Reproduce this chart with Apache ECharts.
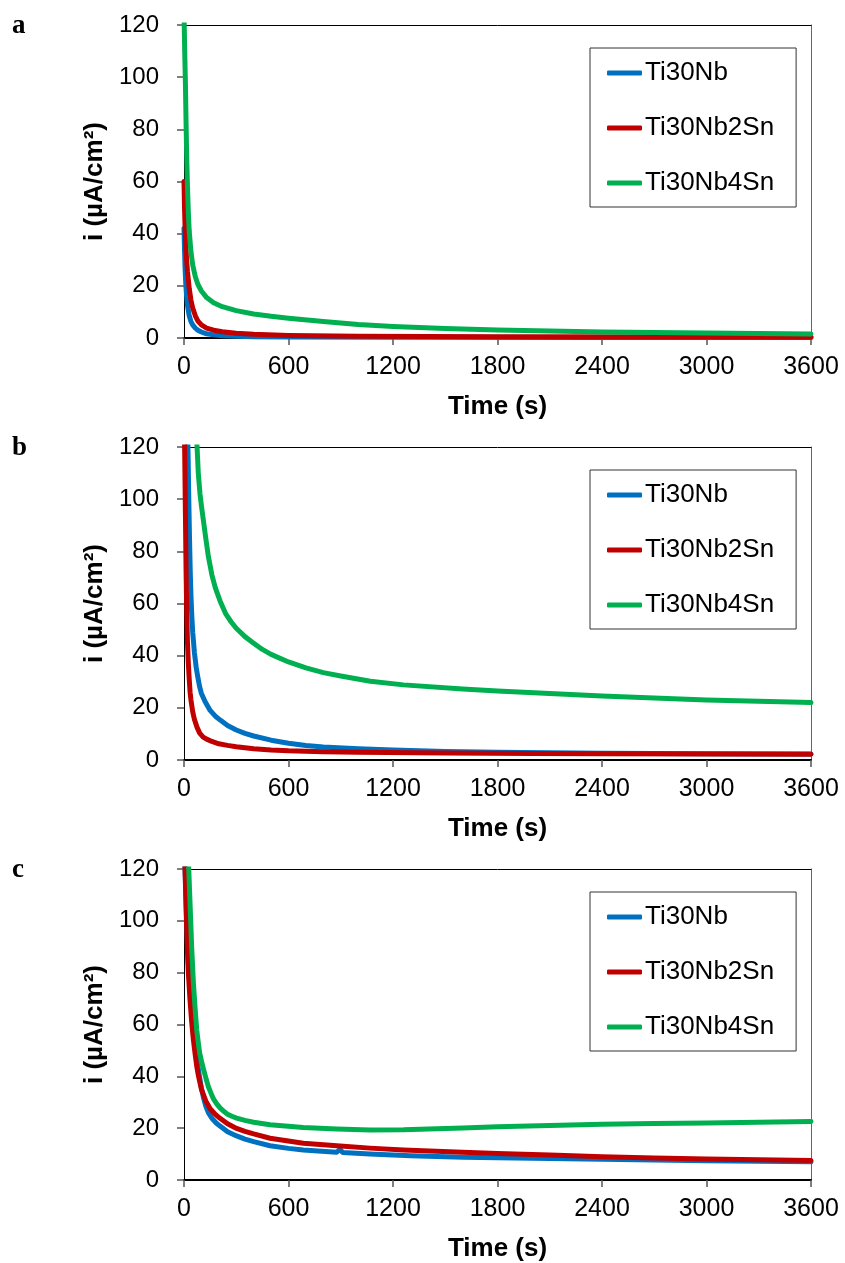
<!DOCTYPE html>
<html>
<head>
<meta charset="utf-8">
<script src="https://cdn.jsdelivr.net/npm/echarts@6/dist/echarts.min.js"></script>
<style>
html,body{margin:0;padding:0;background:#fff;}
#chart{width:845px;height:1263px;}
</style>
</head>
<body>
<div id="chart"></div>
<script>
// ---- data (time s, current µA/cm²) ----
const seriesNames = ['Ti30Nb', 'Ti30Nb2Sn', 'Ti30Nb4Sn'];
const panelLabels = ['a', 'b', 'c'];
const xTicks = [0, 600, 1200, 1800, 2400, 3000, 3600];
const yTicks = [0, 20, 40, 60, 80, 100, 120];

// panel a
const a_Ti30Nb = [[0,42],[3,34],[6,27],[10,21],[15,16],[20,12.5],[30,8.5],[40,6.3],[50,5],[65,3.8],[80,3],[100,2.3],[130,1.6],[170,1.2],[220,0.9],[300,0.7],[400,0.5],[600,0.35],[1200,0.25],[2400,0.2],[3600,0.2]];
const a_Ti30Nb2Sn = [[0,60],[3,50],[6,43],[10,36],[15,30],[20,25.5],[30,19],[40,14.5],[50,11.5],[65,8.5],[80,6.5],[100,5],[130,3.8],[170,3],[220,2.4],[300,1.8],[400,1.4],[600,1],[1000,0.7],[1800,0.5],[3600,0.4]];
const a_Ti30Nb4Sn = [[0,125],[4,110],[8,98],[12,82],[16,68],[20,58],[25,48],[30,41],[40,33],[50,28],[65,23.5],[80,20.5],[100,18],[130,15.5],[170,13.5],[220,12],[300,10.5],[400,9.2],[500,8.3],[600,7.6],[800,6.3],[1000,5.2],[1200,4.4],[1500,3.6],[1800,3.1],[2100,2.7],[2400,2.3],[2700,2.1],[3000,1.9],[3300,1.7],[3600,1.5]];

// panel b
const b_Ti30Nb = [[0,135],[20,128],[24,115],[28,98],[32,84],[36,72],[40,63],[45,55],[50,49],[60,41],[70,35.5],[80,31.5],[90,28],[100,25.5],[120,22.5],[150,19],[180,16.8],[210,15.2],[250,13.2],[300,11.5],[350,10.2],[400,9.2],[500,7.6],[600,6.4],[700,5.6],[800,5],[1000,4.3],[1200,3.8],[1500,3.3],[1800,3],[2400,2.6],[3000,2.4],[3600,2.3]];
const b_Ti30Nb2Sn = [[0,135],[4,118],[8,95],[12,72],[16,56],[20,45],[25,37],[30,31],[35,26],[40,23],[50,18.5],[60,15.5],[75,12.5],[90,10.3],[110,8.8],[130,8],[160,7.1],[200,6.2],[250,5.6],[300,5.1],[400,4.3],[500,3.8],[600,3.5],[800,3.2],[1000,3],[1500,2.7],[2000,2.5],[2400,2.4],[3000,2.3],[3600,2.2]];
const b_Ti30Nb4Sn = [[55,175],[62,150],[68,132],[75,120],[82,110],[92,102],[100,97.5],[111,92],[125,85],[140,78],[160,71],[180,66],[207,61],[240,56],[270,53],[300,50.5],[350,47.3],[400,44.8],[450,42.4],[500,40.5],[600,37.6],[700,35.3],[800,33.5],[900,32.2],[1070,30.2],[1260,28.8],[1600,27.2],[1800,26.5],[2100,25.5],[2400,24.5],[2700,23.8],[3000,23],[3300,22.5],[3600,22]];

// panel c
const c_Ti30Nb = [[0,135],[5,122],[10,112],[15,100],[20,91],[25,84],[34,74],[44,65],[54,58],[64,52],[73,47],[82,43],[90,39.5],[100,35.5],[111,32],[125,28.5],[140,26],[160,23.8],[185,22],[207,20.8],[250,18.6],[302,17],[350,15.8],[400,14.8],[494,13.2],[600,12.2],[685,11.6],[877,10.7],[895,11.8],[912,10.6],[1068,10],[1300,9.4],[1604,8.8],[1800,8.6],[2100,8.3],[2400,8],[2700,7.7],[3000,7.4],[3300,7.2],[3600,7]];
const c_Ti30Nb2Sn = [[0,135],[5,122],[10,110],[15,98],[20,88],[25,80],[34,70],[44,61],[54,54],[64,48.5],[73,44],[82,40.5],[90,38],[100,35],[111,33],[125,30.5],[150,27.5],[180,25.3],[207,23.8],[250,21.7],[302,19.9],[350,18.8],[400,17.8],[494,16.1],[685,14.2],[877,13.2],[1068,12.3],[1260,11.6],[1600,10.7],[1800,10.2],[2100,9.6],[2400,9],[2700,8.5],[3000,8.1],[3300,7.8],[3600,7.5]];
const c_Ti30Nb4Sn = [[0,220],[15,150],[20,135],[25,124],[34,108],[44,90],[54,76],[64,66],[73,58],[82,53],[90,49],[100,46],[111,43],[125,39.5],[140,36],[155,33.5],[170,31.2],[190,29.2],[207,27.8],[230,26.4],[250,25.4],[275,24.6],[302,23.9],[350,23],[400,22.3],[494,21.3],[685,20.3],[877,19.7],[1068,19.3],[1260,19.4],[1600,20.1],[1800,20.5],[2100,21],[2400,21.5],[2700,21.8],[3000,22],[3300,22.3],[3600,22.6]];

const panels = [
  [a_Ti30Nb, a_Ti30Nb2Sn, a_Ti30Nb4Sn],
  [b_Ti30Nb, b_Ti30Nb2Sn, b_Ti30Nb4Sn],
  [c_Ti30Nb, c_Ti30Nb2Sn, c_Ti30Nb4Sn]
];
const colors = ['#0070C0', '#C00000', '#00B050'];

// ---- layout ----
const gridTops = [25, 447, 869];
const gridH = 313;
const gridLeft = 184;
const gridRight = 34;
const FONT = '"Liberation Sans", Arial, sans-serif';

const grids = [], xAxes = [], yAxes = [], series = [], legends = [], graphics = [];
gridTops.forEach((top, p) => {
  grids.push({left: gridLeft, right: gridRight, top: top, height: gridH, containLabel: false});
  xAxes.push({
    type: 'value', gridIndex: p, min: xTicks[0], max: xTicks[xTicks.length-1], interval: 600,
    position: 'bottom',
    name: 'Time (s)', nameLocation: 'middle', nameGap: 56,
    nameTextStyle: {fontFamily: FONT, fontSize: 26, fontWeight: 'bold', color: '#000'},
    axisLine: {show: true, onZero: false, lineStyle: {color: '#000', width: 2}},
    axisTick: {show: true, length: 7, inside: false, lineStyle: {color: '#555', width: 1.5}},
    axisLabel: {fontFamily: FONT, fontSize: 25, color: '#000', margin: 17, formatter: v => String(v)},
    splitLine: {show: false}
  });
  xAxes.push({
    type: 'value', gridIndex: p, min: 0, max: 3600, position: 'top',
    axisLine: {show: true, onZero: false, lineStyle: {color: '#000', width: 1}},
    axisTick: {show: false}, axisLabel: {show: false}, splitLine: {show: false}
  });
  yAxes.push({
    type: 'value', gridIndex: p, min: yTicks[0], max: yTicks[yTicks.length-1], interval: 20,
    position: 'left',
    name: 'i (µA/cm²)', nameLocation: 'middle', nameGap: 72,
    nameTextStyle: {fontFamily: FONT, fontSize: 26, fontWeight: 'bold', color: '#000'},
    axisLine: {show: true, onZero: false, lineStyle: {color: '#000', width: 1}},
    axisTick: {show: true, length: 7, inside: false, lineStyle: {color: '#555', width: 1.5}},
    axisLabel: {fontFamily: FONT, fontSize: 24, color: '#000', margin: 25},
    splitLine: {show: false}
  });
  yAxes.push({
    type: 'value', gridIndex: p, min: 0, max: 120, position: 'right',
    axisLine: {show: true, onZero: false, lineStyle: {color: '#666', width: 1}},
    axisTick: {show: false}, axisLabel: {show: false}, splitLine: {show: false}
  });
  panels[p].forEach((data, s) => {
    series.push({
      type: 'line', name: seriesNames[s], xAxisIndex: p*2, yAxisIndex: p*2,
      data: data, showSymbol: false, symbol: 'none',
      smooth: false, clip: true,
      lineStyle: {color: colors[s], width: 5, join: 'round', cap: 'round'},
      itemStyle: {color: colors[s]},
      emphasis: {disabled: true}, animation: false
    });
  });
  legends.push({
    data: seriesNames, orient: 'vertical', left: 590, top: top + 23,
    padding: [12, 22, 11, 17], itemGap: 29, itemWidth: 35, itemHeight: 5,
    icon: 'roundRect', borderColor: '#333', borderWidth: 1, backgroundColor: '#fff',
    textStyle: {fontFamily: FONT, fontSize: 26, color: '#000', padding: [0,0,0,-2], lineHeight: 26},
    selectedMode: false
  });
  graphics.push({
    type: 'text', left: 12, top: top - 12,
    style: {text: panelLabels[p], font: 'bold 27px "Liberation Serif", "Times New Roman", serif', fill: '#000'}
  });
});

const chart = echarts.init(document.getElementById('chart'), null, {renderer: 'canvas'});
chart.setOption({
  animation: false,
  backgroundColor: '#fff',
  grid: grids, xAxis: xAxes, yAxis: yAxes, series: series, legend: legends, graphic: graphics
});
</script>
</body>
</html>
